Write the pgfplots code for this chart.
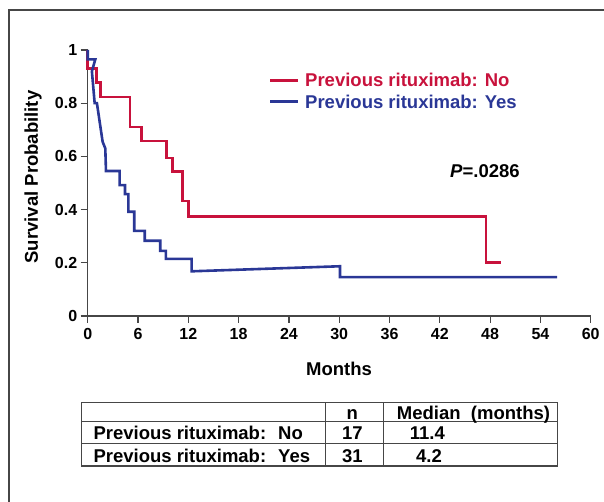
\documentclass[border=0pt]{standalone}
\usepackage{pgfplots}
\pgfplotsset{compat=1.18}
\usepackage{fontspec}
\setmainfont{Liberation Sans}
\definecolor{kmred}{RGB}{200,18,60}
\definecolor{kmblue}{RGB}{42,55,150}
\definecolor{ln}{RGB}{70,70,70}
\begin{document}
\begin{tikzpicture}[x=1pt,y=1pt]
\path[use as bounding box] (0,0) rectangle (604,502);
\draw[ln,line width=1.3pt] (9,0) -- (9,492) -- (604.5,492);
\begin{axis}[
  at={(87.7pt,186pt)}, anchor=south west,
  scale only axis, width=503pt, height=266pt,
  xmin=0, xmax=60, ymin=0, ymax=1,
  axis lines=left, axis line style={-, ln, line width=1.2pt},
  tick align=outside, major tick length=7pt,
  tick style={ln, line width=1.2pt},
  xtick={0,6,12,18,24,30,36,42,48,54,60},
  xticklabels={0,6,12,18,24,30,36,42,48,54,60},
  ytick={0,0.2,0.4,0.6,0.8,1},
  yticklabels={0,0.2,0.4,0.6,0.8,1},
  ticklabel style={font=\fontsize{16}{16}\selectfont\bfseries},
  xticklabel style={yshift=-2pt},
  xlabel={Months}, ylabel={Survival Probability},
  xlabel style={at={(axis description cs:0.4996,-0.199)}, anchor=center, font=\fontsize{18.5}{18.5}\selectfont\bfseries},
  ylabel style={at={(axis description cs:-0.1087,0.5226)}, anchor=center, rotate=0, font=\fontsize{18.5}{18.5}\selectfont\bfseries},
  clip=false,
]
\addplot[kmred, line width=2.6pt, line join=miter] coordinates {
(0,1.0) (0,0.931) (1.07,0.931) (1.07,0.878) (1.55,0.878) (1.55,0.824)
(5.05,0.824) (5.05,0.711) (6.44,0.711) (6.44,0.658) (9.43,0.658) (9.43,0.594)
(10.14,0.594) (10.14,0.544) (11.29,0.544) (11.29,0.432) (12.0,0.432) (12.0,0.373)
(47.5,0.373) (47.5,0.202) (49.3,0.202)
};
\addplot[kmblue, line width=2.6pt, line join=miter] coordinates {
(0,1.0) (0,0.965) (0.91,0.965) (0.5,0.92) (0.83,0.80) (1.1,0.80)
(1.78,0.655) (2.1,0.63) (2.18,0.545) (3.8,0.545) (3.8,0.492) (4.45,0.492)
(4.45,0.458) (4.85,0.458) (4.85,0.392) (5.55,0.392) (5.55,0.32) (6.8,0.32)
(6.8,0.283) (8.65,0.283) (8.65,0.245) (9.33,0.245) (9.33,0.215) (12.4,0.215)
(12.4,0.168) (30.1,0.187) (30.1,0.146) (56.0,0.146)
};
\end{axis}
% legend
\draw[kmred, line width=2.6pt] (270,421.3) -- (298,421.3);
\node[anchor=base west, inner sep=0, text=kmred, font=\fontsize{18.5}{18.5}\selectfont\bfseries] at (305,415.3) {Previous rituximab: No};
\draw[kmblue, line width=2.6pt] (270,400.3) -- (298,400.3);
\node[anchor=base west, inner sep=0, text=kmblue, font=\fontsize{18.5}{18.5}\selectfont\bfseries] at (305,393.7) {Previous rituximab: Yes};
\node[anchor=base west, inner sep=0, font=\fontsize{18.5}{18.5}\selectfont\bfseries] at (450,324.7) {\textit{P}=.0286};
% table
\draw[ln, line width=1.3pt] (81.7,99.7) rectangle (557.7,36);
\draw[ln, line width=1.3pt] (81.7,80.3) -- (557.7,80.3);
\draw[ln, line width=1.3pt] (81.7,58.7) -- (557.7,58.7);
\draw[ln, line width=1.3pt] (325.7,99.7) -- (325.7,36);
\draw[ln, line width=1.3pt] (383.3,99.7) -- (383.3,36);
\begin{scope}[every node/.style={inner sep=0, font=\fontsize{18.5}{18.5}\selectfont\bfseries}]
\node[anchor=base] at (352.3,82.5) {n};
\node[anchor=base west] at (396.7,82.5) {Median~ (months)};
\node[anchor=base west] at (93.3,62) {Previous rituximab:~ No};
\node[anchor=base] at (352.3,62) {17};
\node[anchor=base] at (427.3,62) {11.4};
\node[anchor=base west] at (93.3,39.7) {Previous rituximab:~ Yes};
\node[anchor=base] at (352.3,39.7) {31};
\node[anchor=base] at (429,39.7) {4.2};
\end{scope}
\end{tikzpicture}
\end{document}
